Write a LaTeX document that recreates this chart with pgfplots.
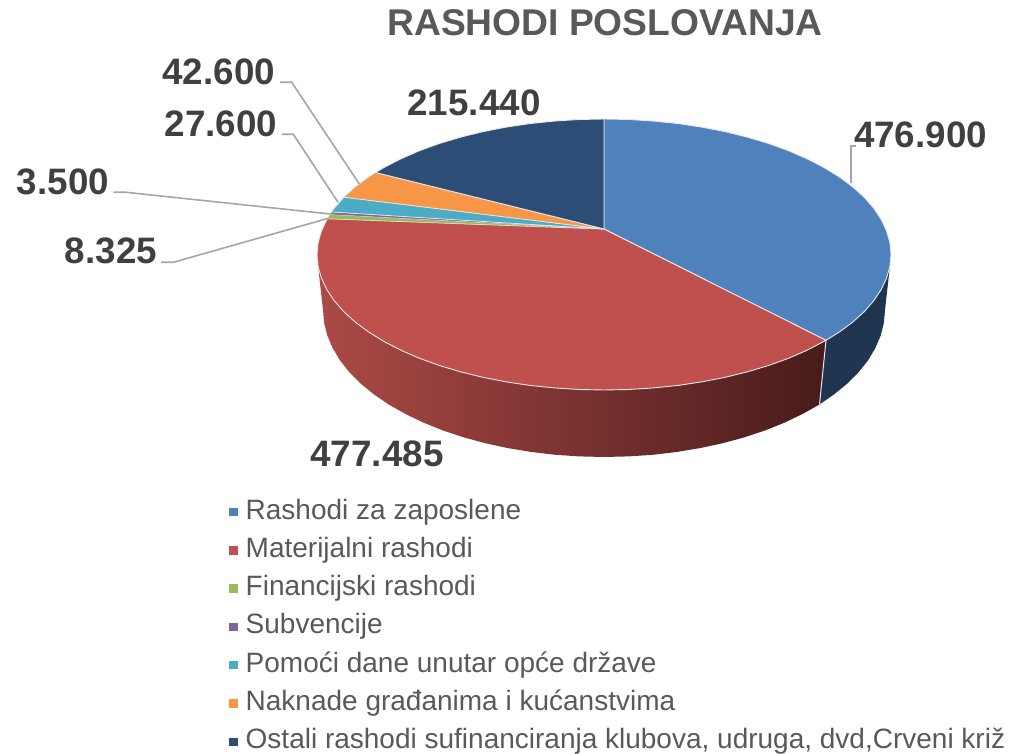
\documentclass[border=0pt]{standalone}
\usepackage{fontspec}
\setmainfont{Liberation Sans}
\usepackage{pgfplots}
\pgfplotsset{compat=1.18}
\definecolor{cBlue}{HTML}{4F81BD}
\definecolor{cRed}{HTML}{C0504D}
\definecolor{cGreen}{HTML}{9BBB59}
\definecolor{cPurple}{HTML}{8064A2}
\definecolor{cTeal}{HTML}{4BACC6}
\definecolor{cOrange}{HTML}{F79646}
\definecolor{cNavy}{HTML}{2C4D75}
\definecolor{cSideBlue}{HTML}{1F3550}
\definecolor{cSideL}{RGB}{172,74,70}
\definecolor{cSideM}{RGB}{122,48,46}
\definecolor{cSideR}{RGB}{72,27,27}
\definecolor{cEdge}{HTML}{E8E8E8}
\definecolor{cLabel}{HTML}{404040}
\definecolor{cTitle}{HTML}{595959}
\definecolor{cLead}{HTML}{A6A6A6}
\newcommand{\lab}{\fontsize{36.8}{40}\selectfont\bfseries\color{cLabel}}
\begin{document}
\begin{tikzpicture}
\begin{axis}[
  width=1011pt,height=754pt,scale only axis,
  xmin=0,xmax=1011,ymin=0,ymax=754,y dir=reverse,
  hide axis,clip=false,
  legend image code/.code={\draw[#1,draw=none] (0pt,-4.25pt) rectangle (8.5pt,4.25pt);},
  legend cell align=left,
  legend style={overlay,at={(axis cs:229,499.8)},anchor=north west,draw=none,fill=none,
    font=\fontsize{28}{30}\selectfont\color{cTitle},
    row sep=14.3pt,inner sep=0pt,
    nodes={text height=19pt,text depth=5pt,inner ysep=0pt,inner xsep=8pt}},
]
% side walls
\addplot[fill=cSideBlue,draw=none,forget plot] coordinates {
(889.9,266.3)(886.6,278.0)(881.2,289.6)(873.7,300.8)(864.1,311.8)(852.5,322.3)(839.1,332.2)(826,340.3)
(819.5,404.5)(834.2,394.3)(847.4,383.5)(858.7,372.1)(868.1,360.3)(875.4,348)(880.7,335.5)(883.9,322.8)(885,310)} --cycle;
\addplot[left color=cSideL,middle color=cSideM,right color=cSideR,draw=none,forget plot] coordinates {
(826,340.3)(806.9,350.3)(788.5,358.3)(768.6,365.5)(747.5,371.8)(725.3,377.3)(702.2,381.8)(678.3,385.4)(653.8,387.9)(629.0,389.5)(604,390)
(579.0,389.5)(554.2,387.9)(529.7,385.4)(505.8,381.8)(482.7,377.3)(460.5,371.8)(439.4,365.5)(419.5,358.3)(401.1,350.3)(384.2,341.6)(368.9,332.2)(355.5,322.3)(343.9,311.8)(334.3,300.8)(326.8,289.6)(321.4,278.0)(318.1,266.3)
(323,310)(324.1,322.8)(327.3,335.5)(332.6,348)(339.9,360.3)(349.3,372.1)(360.6,383.5)(373.8,394.3)(388.7,404.5)(405.3,413.9)(423.4,422.6)(442.8,430.4)(463.5,437.3)(485.2,443.2)(507.9,448.1)(531.3,452)(555.2,454.8)(579.5,456.4)(604,457)
(628.5,456.4)(652.8,454.8)(676.7,452)(700.1,448.1)(722.8,443.2)(744.5,437.3)(765.2,430.4)(784.6,422.6)(802.7,413.9)(819.5,404.5)} --cycle;
\addplot[draw=cEdge,line width=1pt,forget plot] coordinates {(826,340.3)(819.5,404.5)};
% top faces
\addplot[fill=cBlue,draw=cEdge,line width=0.9pt] coordinates {
(604,229)(604,119)(629.0,119.5)(653.8,121.1)(678.3,123.6)(702.2,127.2)(725.3,131.7)(747.5,137.2)(768.6,143.5)(788.5,150.7)(806.9,158.7)(823.8,167.4)(839.1,176.8)(852.5,186.7)(864.1,197.2)(873.7,208.2)(881.2,219.4)(886.6,231.0)(889.9,242.7)(891,254.5)
(889.9,266.3)(886.6,278.0)(881.2,289.6)(873.7,300.8)(864.1,311.8)(852.5,322.3)(839.1,332.2)(826,340.3)} --cycle;
\addlegendentry{Rashodi za zaposlene}
\addplot[fill=cRed,draw=cEdge,line width=0.9pt] coordinates {
(604,229)(826,340.3)(806.9,350.3)(788.5,358.3)(768.6,365.5)(747.5,371.8)(725.3,377.3)(702.2,381.8)(678.3,385.4)(653.8,387.9)(629.0,389.5)(604,390)
(579.0,389.5)(554.2,387.9)(529.7,385.4)(505.8,381.8)(482.7,377.3)(460.5,371.8)(439.4,365.5)(419.5,358.3)(401.1,350.3)(384.2,341.6)(368.9,332.2)(355.5,322.3)(343.9,311.8)(334.3,300.8)(326.8,289.6)(321.4,278.0)(318.1,266.3)(317,254.5)(318.1,242.7)(321.4,231.0)(327.3,218.7)} --cycle;
\addlegendentry{Materijalni rashodi}
\addplot[fill=cGreen,draw=cEdge,line width=0.25pt] coordinates {(604,229)(327.3,218.7)(330,214.5)} --cycle;
\addlegendentry{Financijski rashodi}
\addplot[fill=cPurple,draw=cEdge,line width=0.25pt] coordinates {(604,229)(330,214.5)(331.5,212)} --cycle;
\addlegendentry{Subvencije}
\addplot[fill=cTeal,draw=cEdge,line width=0.7pt] coordinates {(604,229)(331.5,212)(334.3,208.2)(343.9,197.2)} --cycle;
\addlegendentry{Pomoći dane unutar opće države}
\addplot[fill=cOrange,draw=cEdge,line width=0.7pt] coordinates {(604,229)(343.9,197.2)(355.5,186.7)(368.9,176.8)(375.5,172.5)} --cycle;
\addlegendentry{Naknade građanima i kućanstvima}
\addplot[fill=cNavy,draw=cEdge,line width=0.9pt] coordinates {
(604,229)(375.5,172.5)(384.2,167.4)(401.1,158.7)(419.5,150.7)(439.4,143.5)(460.5,137.2)(482.7,131.7)(505.8,127.2)(529.7,123.6)(554.2,121.1)(579.0,119.5)(604,119)} --cycle;
\addlegendentry{Ostali rashodi sufinanciranja klubova, udruga, dvd,Crveni križ}
% leaders
\addplot[draw=cLead,line width=1.6pt,forget plot] coordinates {(280,82.3)(291.7,82.3)(359.3,184)};
\addplot[draw=cLead,line width=1.6pt,forget plot] coordinates {(282,134.3)(293.3,134.3)(338,202.3)};
\addplot[draw=cLead,line width=1.6pt,forget plot] coordinates {(113.3,192.3)(126,192.3)(330,214)};
\addplot[draw=cLead,line width=1.6pt,forget plot] coordinates {(161,262.3)(173.3,262.3)(328.3,218.3)};
\addplot[draw=cLead,line width=1.6pt,forget plot] coordinates {(851,183)(851,146)(856,146)};
% texts
\node[font=\fontsize{37.2}{40}\selectfont\bfseries\color{cTitle}] at (axis cs:605,23) {RASHODI POSLOVANJA};
\node[font=\lab] at (axis cs:920.5,135) {476.900};
\node[font=\lab] at (axis cs:474,103) {215.440};
\node[font=\lab] at (axis cs:218.7,72) {42.600};
\node[font=\lab] at (axis cs:221,124) {27.600};
\node[font=\lab] at (axis cs:63,182) {3.500};
\node[font=\lab] at (axis cs:111,251) {8.325};
\node[font=\lab] at (axis cs:377,454) {477.485};
\end{axis}
\path (0,0) rectangle (1011pt,754pt);
\end{tikzpicture}
\end{document}
